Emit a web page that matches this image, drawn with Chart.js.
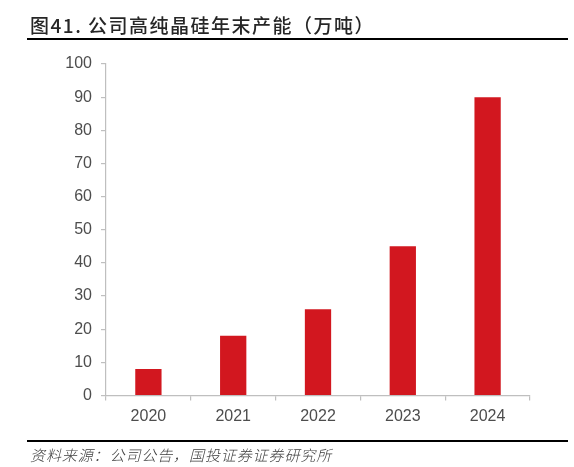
<!DOCTYPE html>
<html>
<head>
<meta charset="utf-8">
<script src="https://cdn.jsdelivr.net/npm/chart.js@4.4.0/dist/chart.umd.min.js"></script>
<style>
  html, body { margin: 0; padding: 0; background: #fff; }
  #wrap { position: relative; width: 574px; height: 467px; overflow: hidden; }
  #myChart { position: absolute; left: 0; top: 0; }
  .title {
    position: absolute; left: 30px; top: 15px;
    font-family: "Noto Sans CJK SC", sans-serif; font-weight: 500;
    font-size: 19px; line-height: 20px; color: #262626; letter-spacing: 1.5px;
    white-space: nowrap;
  }
  .rule { position: absolute; left: 27px; width: 541px; height: 2px; background: #000; }
  .source {
    position: absolute; left: 30px; top: 447px;
    font-family: "Noto Sans CJK SC", sans-serif; font-style: italic; font-weight: 300;
    font-size: 15px; line-height: 16px; color: #404040; letter-spacing: 0.9px;
    white-space: nowrap;
  }
</style>
</head>
<body>
<div id="wrap">
  <canvas id="myChart" width="574" height="467"></canvas>
  <div class="title">图41.&nbsp;公司高纯晶硅年末产能（万吨）</div>
  <div class="rule" style="top:38px"></div>
  <div class="rule" style="top:440px"></div>
  <div class="source">资料来源：公司公告，国投证券证券研究所</div>
</div>
<script>
const years = ['2020', '2021', '2022', '2023', '2024'];
const capacity = [8, 18, 26, 45, 90];
const yMin = 0, yMax = 100, yStep = 10;

const ctx = document.getElementById('myChart');
new Chart(ctx, {
    type: 'bar',
    data: {
        labels: years,
        datasets: [{
            label: '年末产能',
            data: capacity,
            backgroundColor: '#d2171f',
            borderWidth: 0,
            categoryPercentage: 1,
            barPercentage: 0.31
        }]
    },
    options: {
        responsive: false,
        animation: false,
        layout: {
            padding: { left: 0, right: 44, top: 64, bottom: 0 }
        },
        plugins: {
            legend: { display: false },
            tooltip: { enabled: false }
        },
        scales: {
            x: {
                grid: { drawOnChartArea: false, tickLength: 5, color: '#bfbfbf', lineWidth: 1.2 },
                border: { color: '#bfbfbf', width: 1.2 },
                ticks: {
                    color: '#4d4d4d', padding: 6,
                    font: { family: 'Liberation Sans', size: 16 }
                },
                afterFit: function (s) { s.height = 71.5; }
            },
            y: {
                min: yMin,
                max: yMax,
                grid: { drawOnChartArea: false, tickLength: 5, color: '#bfbfbf', lineWidth: 1.2 },
                border: { color: '#bfbfbf', width: 1.2 },
                ticks: {
                    stepSize: yStep,
                    color: '#4d4d4d', padding: 9,
                    font: { family: 'Liberation Sans', size: 16 }
                },
                afterFit: function (s) { s.width = 106; }
            }
        }
    }
});
</script>
</body>
</html>
